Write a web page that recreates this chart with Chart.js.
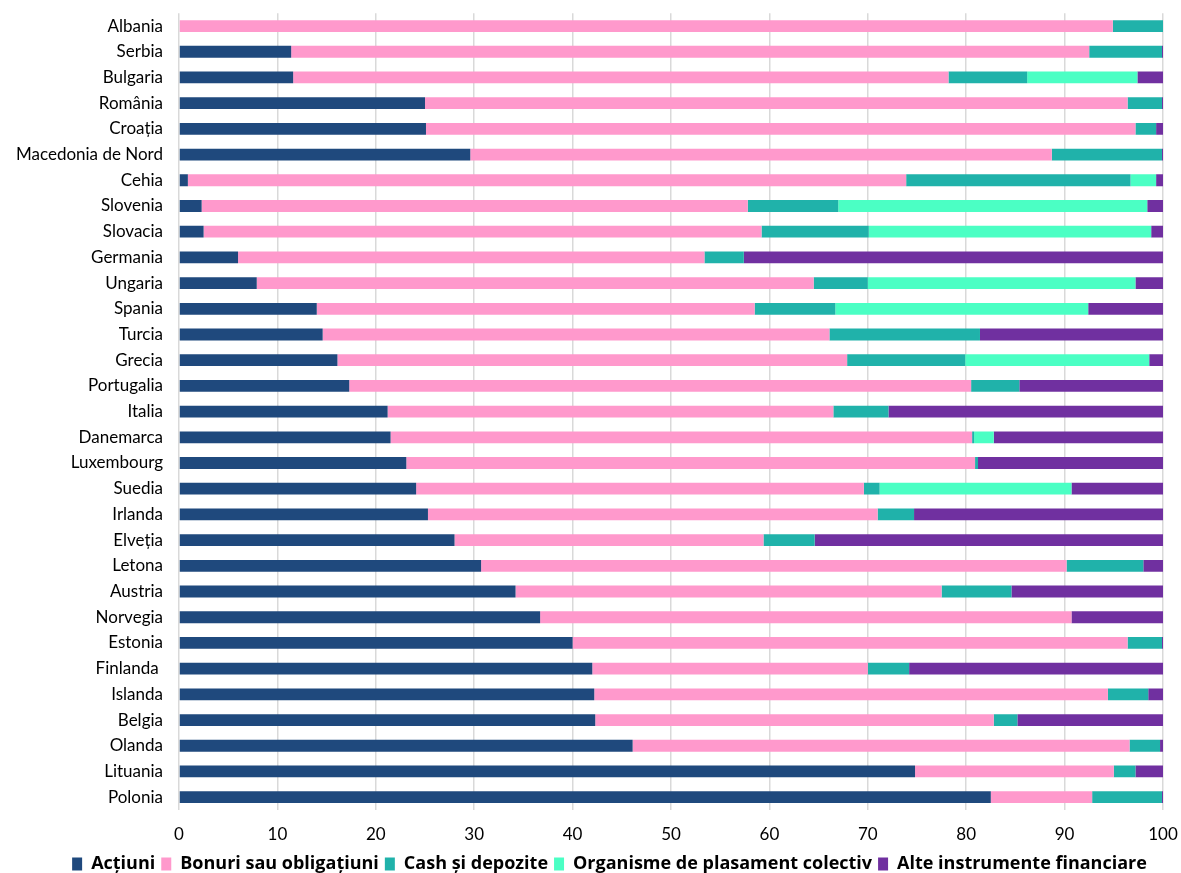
<!DOCTYPE html>
<html>
<head>
<meta charset="utf-8">
<script src="https://cdn.jsdelivr.net/npm/chart.js@4.4.1/dist/chart.umd.min.js"></script>
<style>
  html, body { margin: 0; padding: 0; background: #ffffff; }
  #wrap { width: 1181px; height: 873px; position: relative; }
</style>
</head>
<body>
<div id="wrap"><canvas id="barChart"></canvas></div>
<script>
// categories, top to bottom
const tari = ["Albania", "Serbia", "Bulgaria", "România", "Croația", "Macedonia de Nord", "Cehia",
    "Slovenia", "Slovacia", "Germania", "Ungaria", "Spania", "Turcia", "Grecia", "Portugalia",
    "Italia", "Danemarca", "Luxembourg", "Suedia", "Irlanda", "Elveția", "Letona", "Austria",
    "Norvegia", "Estonia", "Finlanda ", "Islanda", "Belgia", "Olanda", "Lituania", "Polonia"];

// series (%)
const actiuni   = [0, 11.4, 11.6, 25.0, 25.1, 29.6, 0.9, 2.3, 2.5, 6.0, 7.9, 14.0, 14.6, 16.1, 17.3,
    21.2, 21.5, 23.1, 24.1, 25.3, 28.0, 30.7, 34.2, 36.7, 40.0, 42.0, 42.2, 42.3, 46.1, 74.8, 82.5];
const bonuri    = [94.9, 81.1, 66.6, 71.4, 72.1, 59.1, 73.0, 55.5, 56.7, 47.4, 56.6, 44.5, 51.5, 51.8, 63.2,
    45.3, 59.1, 57.8, 45.5, 45.7, 31.4, 59.5, 43.3, 54.0, 56.4, 28.0, 52.2, 40.5, 50.5, 20.2, 10.3];
const cash      = [5.1, 7.4, 8.0, 3.5, 2.1, 11.2, 22.8, 9.2, 10.9, 4.0, 5.5, 8.2, 15.3, 12.0, 4.9,
    5.6, 0.2, 0.3, 1.6, 3.7, 5.2, 7.8, 7.1, 0, 3.5, 4.2, 4.1, 2.4, 3.1, 2.2, 7.1];
const organisme = [0, 0, 11.2, 0, 0, 0, 2.6, 31.4, 28.7, 0, 27.2, 25.7, 0, 18.7, 0,
    0, 2.0, 0, 19.5, 0, 0, 0, 0, 0, 0, 0, 0, 0, 0, 0, 0];
const alte      = [0, 0.1, 2.6, 0.1, 0.7, 0.1, 0.7, 1.6, 1.2, 42.6, 2.8, 7.6, 18.6, 1.4, 14.6,
    27.9, 17.2, 18.8, 9.3, 25.3, 35.4, 2.0, 15.4, 9.3, 0.1, 25.8, 1.5, 14.8, 0.3, 2.8, 0.1];

const xTicks = [0, 10, 20, 30, 40, 50, 60, 70, 80, 90, 100];

const FONT = "Lato, 'Open Sans', sans-serif";

function serie(label, data, color) {
    return {
        label: label,
        data: data,
        backgroundColor: color,
        borderWidth: 0,
        barPercentage: 0.46,
        categoryPercentage: 1
    };
}

// the legend in the original sits a bit right of the canvas centre
const legendShift = {
    id: "legendShift",
    afterLayout: function (chart) {
        if (chart.legend) {
            chart.legend.left += 56;
        }
    }
};

document.addEventListener("DOMContentLoaded", function () {

    const canvas = document.getElementById("barChart");

    new Chart(canvas, {

        type: "bar",

        data: {
            labels: tari,
            datasets: [
                serie("Acțiuni", actiuni, "#1F497D"),
                serie("Bonuri sau obligațiuni", bonuri, "#FF99CC"),
                serie("Cash și depozite", cash, "#20B2AA"),
                serie("Organisme de plasament colectiv", organisme, "#4BFFC4"),
                serie("Alte instrumente financiare", alte, "#7030A0")
            ]
        },

        plugins: [legendShift],

        options: {
            indexAxis: "y",
            responsive: true,
            maintainAspectRatio: false,
            animation: false,
            layout: {
                padding: { top: 13, right: 18, left: 0, bottom: 0 }
            },
            plugins: {
                legend: {
                    position: "bottom",
                    maxHeight: 24,
                    labels: {
                        color: "#000000",
                        font: { family: "'Open Sans', sans-serif", size: 18, weight: "bold" },
                        boxWidth: 10,
                        boxHeight: 13,
                        padding: 6
                    }
                },
                tooltip: { enabled: false }
            },
            scales: {
                x: {
                    stacked: true,
                    min: 0,
                    max: 100,
                    afterBuildTicks: function (scale) {
                        scale.ticks = xTicks.map(v => ({ value: v }));
                    },
                    afterFit: function (scale) {
                        scale.height = 39;
                    },
                    grid: {
                        color: "#d9d9d9",
                        lineWidth: 1.5,
                        tickLength: 12,
                        tickColor: "rgba(0,0,0,0)"
                    },
                    border: { display: false },
                    ticks: {
                        color: "#000000",
                        font: { family: FONT, size: 17 },
                        padding: 2,
                        maxRotation: 0
                    }
                },
                y: {
                    stacked: true,
                    afterFit: function (scale) {
                        scale.width = 179;
                    },
                    grid: { display: false, drawTicks: true, tickLength: 13 },
                    border: { display: false },
                    ticks: {
                        color: "#000000",
                        font: { family: FONT, size: 17 },
                        padding: 3,
                        autoSkip: false
                    }
                }
            }
        }
    });
});
</script>
</body>
</html>
